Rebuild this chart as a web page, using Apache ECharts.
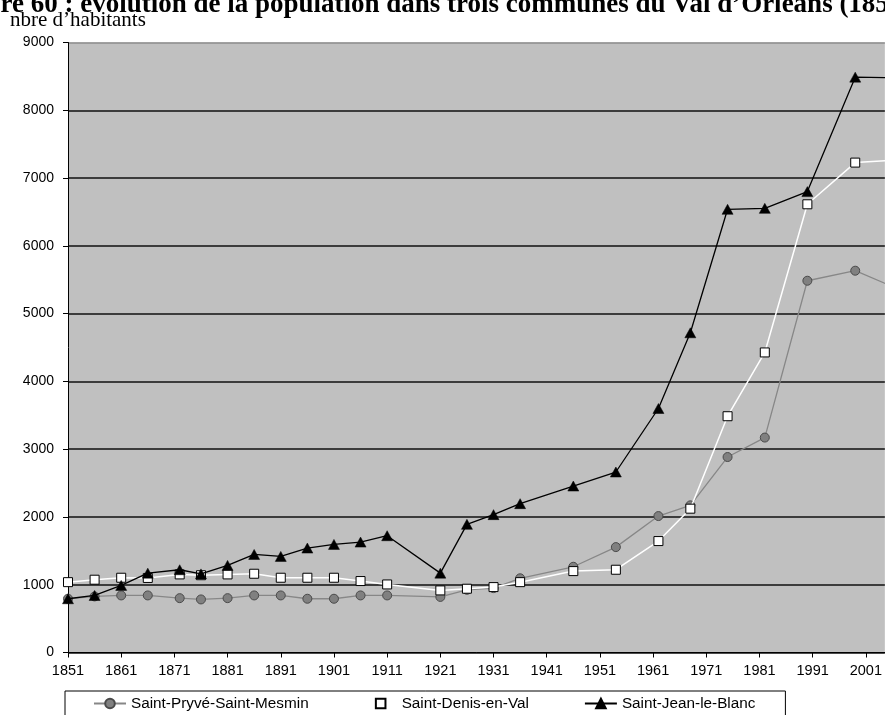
<!DOCTYPE html>
<html>
<head>
<meta charset="utf-8">
<script src="https://cdn.jsdelivr.net/npm/echarts@6/dist/echarts.min.js"></script>
<style>
html,body{margin:0;padding:0;background:#fff;}
#chart{width:885px;height:715px;}
</style>
</head>
<body>
<div id="chart"></div>
<script>
// Census years (x positions come from the value axis)
var years = [1851,1856,1861,1866,1872,1876,1881,1886,1891,1896,1901,1906,1911,1921,1926,1931,1936,1946,1954,1962,1968,1975,1982,1990,1999,2006];
var seriesNames = ['Saint-Pryvé-Saint-Mesmin','Saint-Denis-en-Val','Saint-Jean-le-Blanc'];
var stPryve = [793,827,842,842,802,783,802,842,842,793,793,842,842,820,925,950,1095,1265,1555,2013,2171,2884,3171,5485,5633,5400];
var stDenis = [1038,1074,1103,1100,1152,1140,1152,1162,1103,1103,1103,1054,1004,916,941,965,1038,1201,1221,1644,2122,3486,4427,6613,7228,7260];
var stJean  = [793,842,990,1171,1221,1160,1285,1447,1418,1541,1595,1629,1723,1171,1891,2034,2196,2456,2663,3600,4717,6539,6553,6800,8489,8480];
var titleText = "Figure 60 : évolution de la population dans trois communes du Val d’Orléans (1851-2006)";
var yAxisName = "nbre d’habitants";

function pairs(vals){ return years.map(function(y,i){ return [y, vals[i]]; }); }

var chart = echarts.init(document.getElementById('chart'), null, {renderer:'canvas'});
var sans = "'Liberation Sans', Arial, sans-serif";
var serif = "'Liberation Serif', 'Times New Roman', serif";

chart.setOption({
  animation: false,
  backgroundColor: '#ffffff',
  graphic: [
    { type:'text', left:-52, top:-8, z:100,
      style:{ text:titleText, font:'bold 27px ' + serif, fill:'#000' } },
    { type:'text', left:10, top:10, z:100,
      style:{ text:yAxisName, font:'21px ' + serif, fill:'#000' } }
  ],
  grid: { left:68, right:0, top:42.5, bottom:62.5, show:true, backgroundColor:'#c0c0c0', borderWidth:0 },
  legend: {
    left:65, top:691, orient:'horizontal',
    padding:[5,30,40,28],
    itemGap:55, itemWidth:32, itemHeight:12,
    borderColor:'#000', borderWidth:1, backgroundColor:'#fff',
    textStyle:{ fontFamily:sans, fontSize:15.3, color:'#000' },
    data: seriesNames
  },
  xAxis: {
    type:'value', min:1851, max:2004.57, interval:10,
    axisLine:{ show:true, onZero:false, lineStyle:{ color:'#000', width:1 } },
    axisTick:{ show:true, length:5, inside:false, lineStyle:{ color:'#000' } },
    axisLabel:{ show:true, margin:11, fontFamily:sans, fontSize:14.5, color:'#000', showMaxLabel:false,
      formatter:function(v){ return String(Math.round(v)); } },
    splitLine:{ show:false }
  },
  yAxis: {
    type:'value', min:0, max:9000, interval:1000,
    axisLine:{ show:true, lineStyle:{ color:'#000', width:1 } },
    axisTick:{ show:true, length:5, lineStyle:{ color:'#000' } },
    axisLabel:{ margin:14, fontFamily:sans, fontSize:14, color:'#000',
      formatter:function(v){ return String(Math.round(v)); } },
    splitLine:{ show:true, lineStyle:{ width:1.5,
      color:['#111','#111','#111','#111','#111','#111','#111','#111','#111','#8c8c8c'] } }
  },
  series: [
    { name:seriesNames[0], type:'line', data:pairs(stPryve), clip:true,
      symbol:'circle', symbolSize:9, showAllSymbol:true,
      lineStyle:{ color:'#878787', width:1.3 },
      itemStyle:{ color:'#808080', borderColor:'#4a4a4a', borderWidth:1 }, z:2 },
    { name:seriesNames[1], type:'line', data:pairs(stDenis), clip:true,
      symbol:'rect', symbolSize:9, showAllSymbol:true,
      lineStyle:{ color:'#ffffff', width:1.5 },
      itemStyle:{ color:'#ffffff', borderColor:'#000', borderWidth:1 }, z:3 },
    { name:seriesNames[2], type:'line', data:pairs(stJean), clip:true,
      symbol:'triangle', symbolSize:[11,10], showAllSymbol:true,
      lineStyle:{ color:'#000', width:1.3 },
      itemStyle:{ color:'#000', borderColor:'#000', borderWidth:0.5 }, z:4 }
  ]
});
</script>
</body>
</html>
